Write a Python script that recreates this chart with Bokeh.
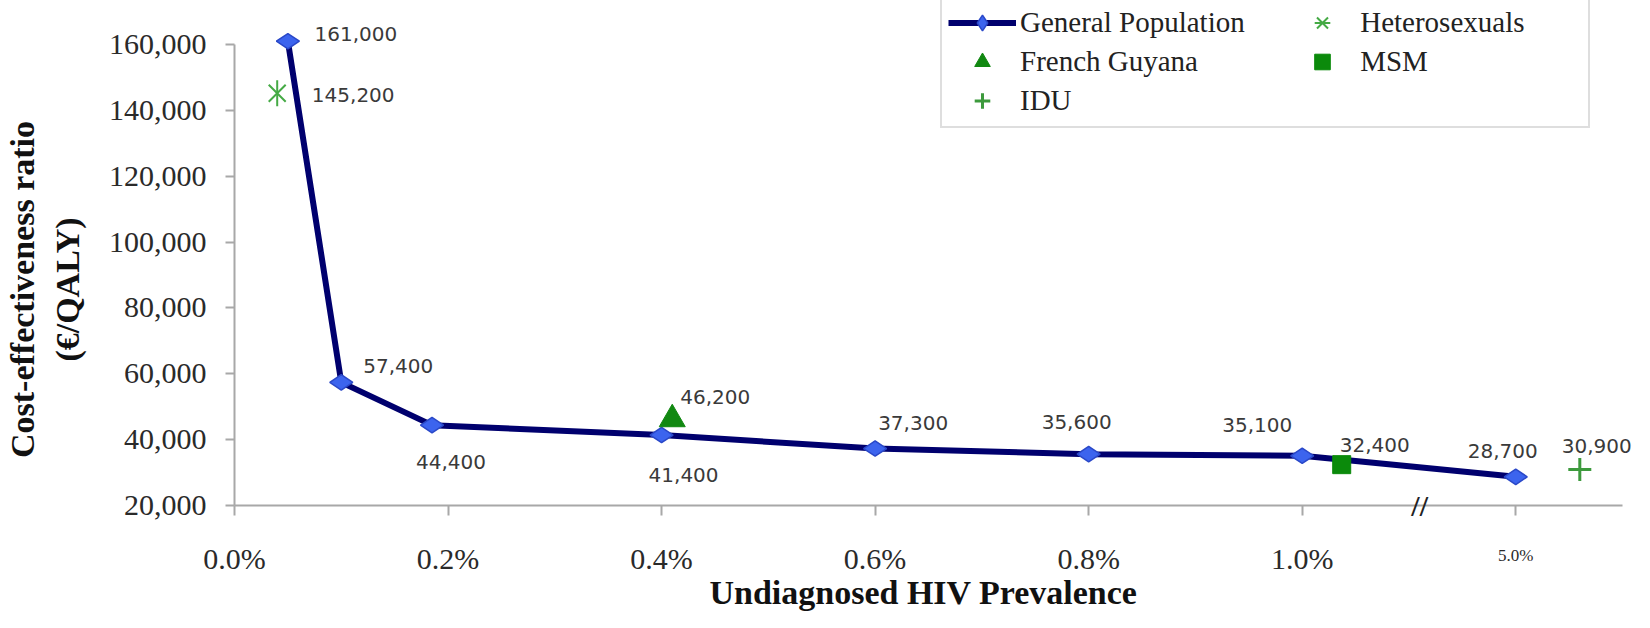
import math
from bokeh.plotting import figure
from bokeh.models import (ColumnDataSource, Range1d, FixedTicker, NumeralTickFormatter,
                          Legend, LegendItem, Label, LabelSet)
from bokeh.core.properties import value
from bokeh.embed import file_html
from bokeh.resources import INLINE

# ---------------- data ----------------
# x positions on the (broken) prevalence axis; 1.20 stands for 5.0%
gp_pos = [0.05, 0.10, 0.185, 0.40, 0.60, 0.80, 1.00, 1.20]
gp_val = [161000, 57400, 44400, 41400, 37300, 35600, 35100, 28700]
het_pos = [0.04]
het_val = [145200]
fg_pos = [0.41]
fg_val = [46200]
msm_pos = [1.037]
msm_val = [32400]
idu_pos = [1.26]
idu_val = [30900]

x_ticks = [0.0, 0.2, 0.4, 0.6, 0.8, 1.0, 1.2]
x_tick_labels = ["0.0%", "0.2%", "0.4%", "0.6%", "0.8%", "1.0%", "5.0%"]
y_ticks = [20000, 40000, 60000, 80000, 100000, 120000, 140000, 160000]
x_axis_end = 1.30
break_pos = 1.11

# data-label offsets (screen px, y up)
gp_dx = [68, 57, 19, 22, 38, -12, -45, -13]
gp_dy = [7, 16, -37, -40, 26, 32, 31, 26]
het_dx, het_dy = [76], [-2]
fg_dx, fg_dy = [43], [22]
msm_dx, msm_dy = [33], [20]
idu_dx, idu_dy = [17], [24]

SERIF = "Liberation Serif"
NB = "\u00a0"

W, H = 1634, 612
p = figure(width=W, height=H, output_backend="svg", toolbar_location=None,
           x_range=Range1d(-0.21916, 1.31123), y_range=Range1d(-12494, 173360),
           min_border_left=0, min_border_right=0, min_border_top=0, min_border_bottom=0)
p.background_fill_color = "white"
p.border_fill_color = "white"
p.outline_line_color = None
p.xgrid.grid_line_color = None
p.ygrid.grid_line_color = None

# axes crossing at (0, 20000)
for ax in (p.xaxis[0], p.yaxis[0]):
    ax.axis_line_color = "#a8a8a8"
    ax.axis_line_width = 2
    ax.major_tick_line_color = "#a8a8a8"
    ax.major_tick_line_width = 2
    ax.minor_tick_line_color = None
    ax.major_tick_in = 0
    ax.major_label_text_font = SERIF
    ax.major_label_text_font_size = "30px"
    ax.major_label_text_color = "#2a2a2a"

p.yaxis.fixed_location = 0
p.yaxis.ticker = FixedTicker(ticks=y_ticks)
p.yaxis.formatter = NumeralTickFormatter(format="0,0")
p.yaxis.bounds = (y_ticks[0], y_ticks[-1])
p.yaxis.major_tick_out = 9
p.yaxis.major_label_standoff = 19

p.xaxis.fixed_location = y_ticks[0]
p.xaxis.ticker = FixedTicker(ticks=x_ticks)
overrides = {t: l for t, l in zip(x_ticks, x_tick_labels)}
overrides[x_ticks[-1]] = ""
p.xaxis.major_label_overrides = overrides
p.xaxis.bounds = (0, x_axis_end)
p.xaxis.major_tick_out = 10
p.xaxis.major_label_standoff = 26

# series
line = p.line(gp_pos, gp_val, line_color="#00006e", line_width=6)
gp_sc = p.scatter(gp_pos, gp_val, marker="diamond", angle=math.pi / 2, size=23,
                  fill_color="#3c64ee", line_color="#2a48c8", line_width=1.5)
het_x = p.scatter(het_pos, het_val, marker="x", size=24, line_color="#45aa45", line_width=2)
het_v = p.scatter(het_pos, het_val, marker="dash", angle=math.pi / 2, size=26,
                  line_color="#45aa45", line_width=2)
fg_sc = p.scatter(fg_pos, fg_val, marker="triangle", size=26,
                  fill_color="#118811", line_color="#118811")
msm_sc = p.scatter(msm_pos, msm_val, marker="square", size=18,
                   fill_color="#0b8a0b", line_color="#0b8a0b")
idu_sc = p.scatter(idu_pos, idu_val, marker="cross", size=23,
                   line_color="#3d9a3d", line_width=3)

# data labels
lab_x = gp_pos + het_pos + fg_pos + msm_pos + idu_pos
lab_y = gp_val + het_val + fg_val + msm_val + idu_val
lab_dx = gp_dx + het_dx + fg_dx + msm_dx + idu_dx
lab_dy = gp_dy + het_dy + fg_dy + msm_dy + idu_dy
lab_src = ColumnDataSource(dict(x=lab_x, y=lab_y, dx=lab_dx, dy=lab_dy,
                                t=["{:,}".format(v) for v in lab_y]))
p.add_layout(LabelSet(x="x", y="y", text="t", x_offset="dx", y_offset="dy", source=lab_src,
                      text_font=value("DejaVu Sans"), text_font_size=value("20px"),
                      text_color="#3a3a3a", text_align="center", text_baseline="middle"))

# 5.0% tick label (smaller) and axis break
p.add_layout(Label(x=x_ticks[-1], y=57, x_units="data", y_units="screen",
                   text=x_tick_labels[-1], text_font=SERIF, text_font_size="17px",
                   text_color="#2a2a2a", text_align="center", text_baseline="middle"))
p.add_layout(Label(x=break_pos, y=y_ticks[0], x_units="data", y_units="data", text="//",
                   text_font=SERIF, text_font_size="30px", text_font_style="bold",
                   text_color="#222222", text_align="center", text_baseline="middle"))

# axis titles
p.add_layout(Label(x=923, y=2, x_units="screen", y_units="screen",
                   text="Undiagnosed HIV Prevalence", text_font=SERIF, text_font_size="34px",
                   text_font_style="bold", text_color="#111111",
                   text_align="center", text_baseline="bottom"))
p.add_layout(Label(x=22, y=323, x_units="screen", y_units="screen", angle=math.pi / 2,
                   text="Cost-effectiveness ratio", text_font=SERIF, text_font_size="34px",
                   text_font_style="bold", text_color="#111111",
                   text_align="center", text_baseline="middle"))
p.add_layout(Label(x=67, y=323, x_units="screen", y_units="screen", angle=math.pi / 2,
                   text="(€/QALY)", text_font=SERIF, text_font_size="34px",
                   text_font_style="bold", text_color="#111111",
                   text_align="center", text_baseline="middle"))

# legend (two columns; trailing no-break spaces set the column widths)
legend = Legend(items=[
    LegendItem(label="General Population" + NB * 6, renderers=[line, gp_sc]),
    LegendItem(label="French Guyana", renderers=[fg_sc]),
    LegendItem(label="IDU", renderers=[idu_sc]),
    LegendItem(label="Heterosexuals" + NB * 8, renderers=[het_x, het_v]),
    LegendItem(label="MSM", renderers=[msm_sc]),
], location=(940, 484), ncols=2, glyph_width=68, glyph_height=39, label_standoff=4,
    label_width=20, label_height=20, spacing=0, padding=6, margin=0,
    label_text_font=SERIF, label_text_font_size="29px", label_text_color="#222222",
    border_line_color="#bdbdbd", border_line_width=2, background_fill_color="white",
    background_fill_alpha=1.0)
p.add_layout(legend)

open("out.html", "w").write(file_html(p, INLINE))
